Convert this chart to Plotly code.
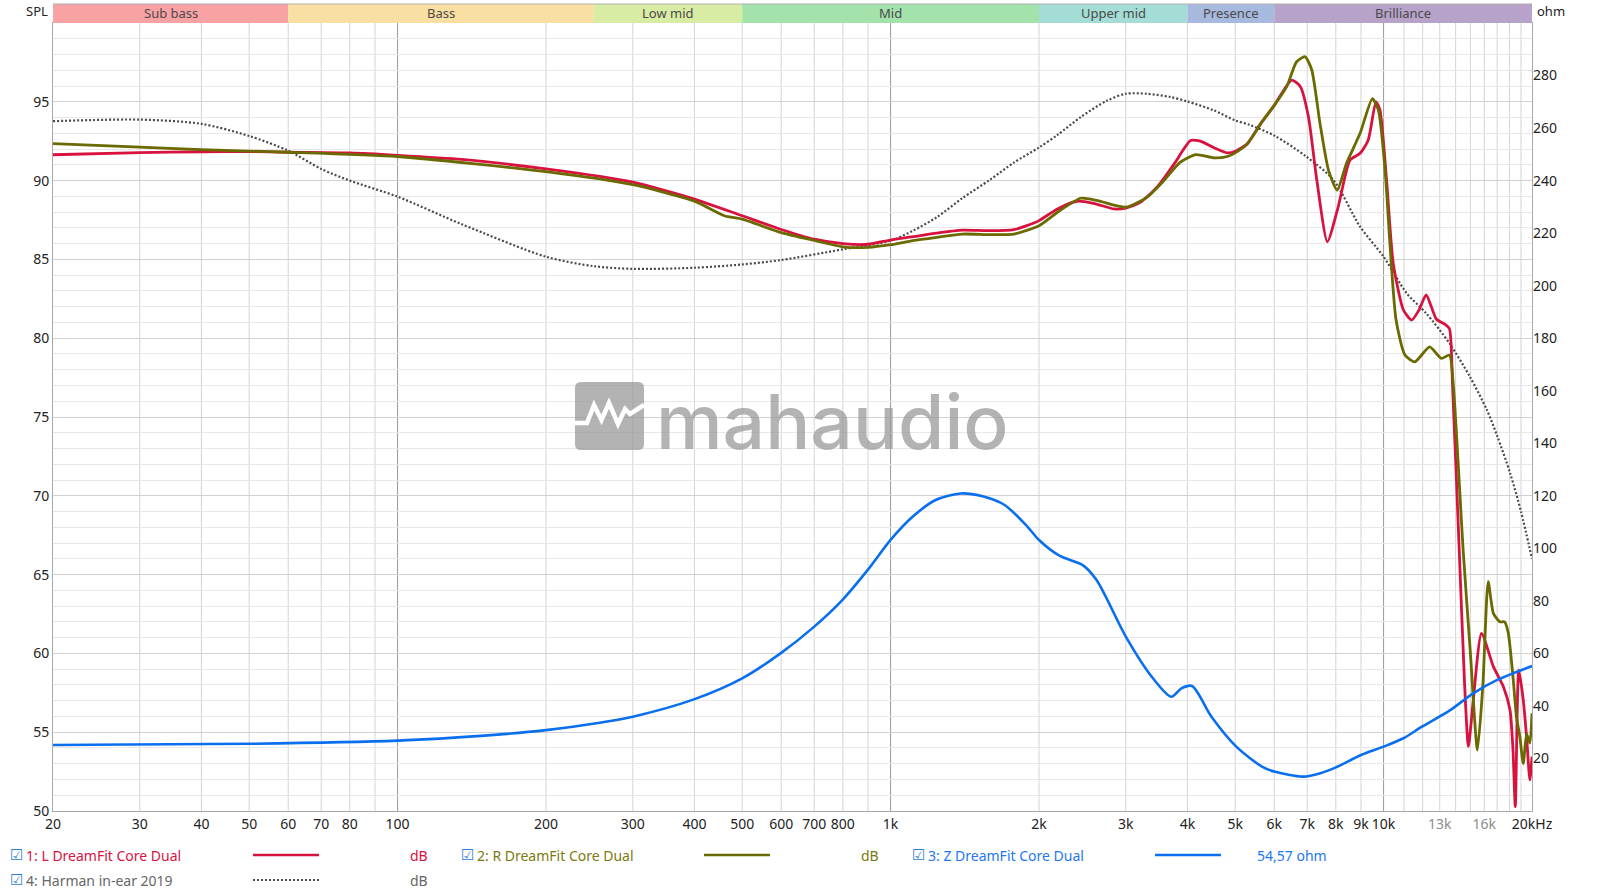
import math
import plotly.graph_objects as go

# ---------------- data ----------------
L_FREQ = [20, 30, 40, 50, 60, 80, 100, 135, 200, 300, 400, 500, 600, 700, 800, 900, 1000, 1110, 1240, 1400,
          1590, 1780, 1890, 2000, 2180, 2390, 2580, 2840, 3000, 3210, 3470, 3760, 4060, 4250, 4530, 4820,
          5000, 5290, 5630, 6000, 6510, 6780, 7040, 7320, 7690, 8090, 8550, 8960, 9310, 9650, 9830, 10140,
          10460, 10970, 11400, 11800, 12200, 12800, 13300, 13600, 13800, 14240, 14600, 14860, 15200, 15800,
          16700, 17500, 18050, 18300, 18500, 18800, 19200, 19500, 19800, 20000]
L_DB = [91.64, 91.77, 91.83, 91.85, 91.8, 91.75, 91.6, 91.34, 90.74, 89.9, 88.83, 87.77, 86.9, 86.28, 86.0, 85.96,
        86.23, 86.44, 86.67, 86.86, 86.82, 86.89, 87.14, 87.46, 88.2, 88.69, 88.56, 88.2, 88.26, 88.62, 89.58,
        91.06, 92.54, 92.5, 92.08, 91.76, 91.86, 92.33, 93.6, 94.77, 96.38, 95.96, 94.05, 90.04, 86.12, 88.34,
        91.31, 91.73, 92.58, 95.0, 94.48, 90.04, 84.75, 81.79, 81.15, 81.79, 82.74, 81.2, 80.9, 80.6, 77.0,
        66.5, 58.0, 54.1, 57.0, 61.27, 59.16, 57.89, 56.4, 53.87, 50.27, 58.95, 57.04, 54.7, 51.97, 53.45]

R_FREQ = [20, 30, 40, 50, 60, 100, 200, 300, 400, 460, 500, 600, 700, 800, 900, 1000, 1110, 1240, 1400, 1590,
          1780, 2000, 2180, 2430, 2630, 3000, 3310, 3560, 3870, 4160, 4530, 4820, 5000, 5290, 5630, 6000, 6360,
          6660, 6930, 7150, 7430, 7730, 8050, 8410, 8960, 9490, 9760, 10070, 10300, 10600, 11050, 11570, 12400,
          13100, 13600, 13850, 14500, 15000, 15500, 15900, 16300, 16700, 17200, 17600, 17900, 18300, 18600,
          18900, 19200, 19500, 19800, 20000]
R_DB = [92.34, 92.13, 91.96, 91.87, 91.8, 91.53, 90.57, 89.74, 88.7, 87.77, 87.55, 86.7, 86.2, 85.8, 85.76, 85.93,
        86.19, 86.4, 86.61, 86.57, 86.61, 87.14, 87.99, 88.88, 88.73, 88.31, 88.94, 89.9, 91.17, 91.65, 91.44,
        91.53, 91.76, 92.33, 93.6, 94.77, 95.96, 97.54, 97.86, 97.02, 93.63, 90.67, 89.4, 91.1, 93.0, 95.2, 94.48,
        90.67, 86.0, 81.15, 78.93, 78.5, 79.45, 78.72, 78.93, 77.0, 66.56, 60.0, 53.87, 58.0, 64.55, 62.54,
        62.01, 62.0, 61.3, 58.52, 55.98, 54.7, 53.0, 54.9, 54.3, 56.2]

Z_FREQ = [20, 50, 100, 150, 200, 257, 300, 399, 500, 598, 700, 798, 898, 1000, 1108, 1234, 1389, 1530, 1703,
          1896, 2000, 2205, 2453, 2617, 3000, 3387, 3711, 3889, 4087, 4476, 5026, 5667, 6000, 6868, 7445, 8000,
          9000, 10000, 10970, 11960, 13600, 15200, 17000, 20000]
Z_OHM = [25.1, 25.6, 26.8, 28.7, 30.8, 33.6, 35.9, 42.5, 50.5, 60.0, 70.2, 80.3, 91.7, 103.2, 112.0, 118.4,
         120.9, 119.9, 116.5, 108.2, 103.2, 97.1, 93.6, 87.9, 66.4, 51.1, 43.5, 46.7, 47.6, 35.9, 24.5, 16.9,
         15.0, 13.1, 14.4, 16.6, 21.3, 24.5, 27.7, 32.1, 38.2, 44.8, 49.9, 55.2]

H_FREQ = [20, 30, 40, 50, 60, 70, 80, 100, 135, 200, 250, 300, 400, 500, 600, 800, 1000, 1110, 1240, 1400,
          1590, 1780, 2000, 2180, 2430, 2750, 3000, 3310, 3700, 4000, 4530, 5000, 5360, 6000, 6980, 7910, 8960,
          10000, 11140, 12200, 13600, 14960, 16200, 17000, 18050, 19000, 20000]
H_DB = [93.77, 93.87, 93.6, 92.83, 91.9, 90.74, 90.0, 88.98, 87.23, 85.17, 84.57, 84.4, 84.47, 84.68, 84.96,
        85.64, 86.19, 86.82, 87.67, 88.9, 90.05, 91.15, 92.1, 92.9, 94.03, 95.08, 95.51, 95.51, 95.3, 95.02,
        94.45, 93.82, 93.53, 92.86, 91.51, 90.04, 87.08, 85.17, 82.85, 81.58, 79.68, 77.56, 75.45, 73.8,
        71.45, 69.0, 66.0]

BAND_NAMES = ["Sub bass", "Bass", "Low mid", "Mid", "Upper mid", "Presence", "Brilliance"]
BAND_EDGES = [20, 60, 250, 500, 2000, 4000, 6000, 20000]
BAND_COLORS = ["#F8A2A4", "#F9DFA1", "#D9ECA3", "#A3E2AA", "#A4DDD6", "#A8B9DF", "#B7A2C9"]

X_TICKS = [20, 30, 40, 50, 60, 70, 80, 100, 200, 300, 400, 500, 600, 700, 800, 1000, 2000, 3000, 4000, 5000,
           6000, 7000, 8000, 9000, 10000, 13000, 16000, 20000]
X_TICKTEXT = ["20", "30", "40", "50", "60", "70", "80", "100", "200", "300", "400", "500", "600", "700", "800",
              "1k", "2k", "3k", "4k", "5k", "6k", "7k", "8k", "9k", "10k",
              "<span style='color:#8c8c8c'>13k</span>", "<span style='color:#8c8c8c'>16k</span>", "20kHz"]
Y_TICKS = [50, 55, 60, 65, 70, 75, 80, 85, 90, 95]
Y2_TICKS = [20, 40, 60, 80, 100, 120, 140, 160, 180, 200, 220, 240, 260, 280]

GRID_MINOR = [30, 40, 50, 60, 70, 80, 90, 200, 300, 400, 500, 600, 700, 800, 900, 2000, 3000, 4000, 5000,
              6000, 7000, 8000, 9000, 11000, 12000, 13000, 14000, 15000, 16000, 17000, 18000, 19000]
GRID_MAJOR = [100, 1000, 10000]

# ---------------- geometry ----------------
W, H = 1600, 893
ML, MR, MT, MB = 53, 68, 23, 82
PW, PH = W - ML - MR, H - MT - MB


def px(xp):
    return (xp - ML) / PW


def py(yp):
    return (H - MB - yp) / PH


FONT = "Noto Sans"

fig = go.Figure()

fig.add_trace(go.Scatter(x=H_FREQ, y=H_DB, mode="lines", name="4: Harman in-ear 2019",
                         line=dict(color="#4a4a4a", width=2.2, dash="2px,2px", shape="spline", smoothing=0.8)))
fig.add_trace(go.Scatter(x=Z_FREQ, y=Z_OHM, mode="lines", yaxis="y2", name="3: Z DreamFit Core Dual",
                         line=dict(color="#0A6FEF", width=2.6, shape="spline", smoothing=0.8)))
fig.add_trace(go.Scatter(x=L_FREQ, y=L_DB, mode="lines", name="1: L DreamFit Core Dual",
                         line=dict(color="#D8123F", width=2.8, shape="spline", smoothing=0.6)))
fig.add_trace(go.Scatter(x=R_FREQ, y=R_DB, mode="lines", name="2: R DreamFit Core Dual",
                         line=dict(color="#6A6A00", width=2.8, shape="spline", smoothing=0.6)))

shapes = []
# vertical grid
for f in GRID_MINOR:
    shapes.append(dict(type="line", xref="x", yref="paper", x0=f, x1=f, y0=0, y1=1, layer="below",
                       line=dict(color="#d4d4d4", width=1)))
for f in GRID_MAJOR:
    shapes.append(dict(type="line", xref="x", yref="paper", x0=f, x1=f, y0=0, y1=1, layer="below",
                       line=dict(color="#9a9a9a", width=1)))

# frequency band bar
band_h = 19 / PH
annotations = []
for name, f0, f1, col in zip(BAND_NAMES, BAND_EDGES[:-1], BAND_EDGES[1:], BAND_COLORS):
    shapes.append(dict(type="rect", xref="x", yref="paper", x0=f0, x1=f1, y0=1, y1=1 + band_h,
                       fillcolor=col, line=dict(width=0), layer="above"))
    annotations.append(dict(x=(math.log10(f0) + math.log10(f1)) / 2, y=1 + band_h / 2, xref="x", yref="paper",
                            text=name, showarrow=False, xanchor="center", yanchor="middle",
                            font=dict(family=FONT, size=13, color="#4a4a4a")))
shapes.append(dict(type="line", xref="paper", yref="paper", x0=0, x1=1, y0=1 + band_h, y1=1 + band_h,
                   line=dict(color="#b0b0b0", width=1)))

# axis titles
annotations.append(dict(x=px(50), y=py(11), xref="paper", yref="paper", text="SPL", showarrow=False,
                        xanchor="right", yanchor="middle", font=dict(family=FONT, size=13, color="#222")))
annotations.append(dict(x=px(1535), y=py(11), xref="paper", yref="paper", text="ohm", showarrow=False,
                        xanchor="left", yanchor="middle", font=dict(family=FONT, size=13, color="#222")))

# watermark
lx0, lx1, ly0, ly1, r = 575, 644, 382, 450, 6
logo_path = (f"M {px(lx0 + r)},{py(ly0)} L {px(lx1 - r)},{py(ly0)} Q {px(lx1)},{py(ly0)} {px(lx1)},{py(ly0 + r)} "
             f"L {px(lx1)},{py(ly1 - r)} Q {px(lx1)},{py(ly1)} {px(lx1 - r)},{py(ly1)} "
             f"L {px(lx0 + r)},{py(ly1)} Q {px(lx0)},{py(ly1)} {px(lx0)},{py(ly1 - r)} "
             f"L {px(lx0)},{py(ly0 + r)} Q {px(lx0)},{py(ly0)} {px(lx0 + r)},{py(ly0)} Z")
shapes.append(dict(type="path", xref="paper", yref="paper", path=logo_path, fillcolor="rgba(150,150,150,0.72)",
                   line=dict(width=0), layer="above"))
zig = [(575, 423), (587, 423), (594, 405), (601.5, 420), (609, 403), (618, 424), (625, 409), (630, 414),
       (644, 405)]
zig_path = "M " + " L ".join(f"{px(a)},{py(b)}" for a, b in zig)
shapes.append(dict(type="path", xref="paper", yref="paper", path=zig_path,
                   line=dict(color="white", width=4.5), layer="above"))
annotations.append(dict(x=px(654), y=py(421), xref="paper", yref="paper", text="mahaudio", showarrow=False,
                        xanchor="left", yanchor="middle",
                        font=dict(family="Inter", size=75, color="rgba(150,150,150,0.72)", weight=500)))

# bottom legend
legend_items = [
    (8, 855, "1: L DreamFit Core Dual", "#D8123F", "#D8123F", "solid", "dB", 408),
    (459, 855, "2: R DreamFit Core Dual", "#7A7A10", "#6A6A00", "solid", "dB", 859),
    (910, 855, "3: Z DreamFit Core Dual", "#1E78F0", "#0A6FEF", "solid", "54,57 ohm", 1255),
    (8, 880, "4: Harman in-ear 2019", "#666666", "#4a4a4a", "2px,2px", "dB", 408),
]
for x0, yy, label, tcol, lcol, dash, unit, ux in legend_items:
    annotations.append(dict(x=px(x0), y=py(yy), xref="paper", yref="paper", text="☑", showarrow=False,
                            xanchor="left", yanchor="middle", font=dict(family="DejaVu Sans", size=15,
                                                                          color="#2f7fd6")))
    annotations.append(dict(x=px(x0 + 16), y=py(yy), xref="paper", yref="paper", text=label, showarrow=False,
                            xanchor="left", yanchor="middle", font=dict(family=FONT, size=14, color=tcol)))
    lx = x0 + 245
    shapes.append(dict(type="line", xref="paper", yref="paper", x0=px(lx), x1=px(lx + 66), y0=py(yy),
                       y1=py(yy), line=dict(color=lcol, width=2.6 if dash == "solid" else 2, dash=dash)))
    annotations.append(dict(x=px(ux), y=py(yy), xref="paper", yref="paper", text=unit, showarrow=False,
                            xanchor="left", yanchor="middle", font=dict(family=FONT, size=14, color=tcol)))

fig.update_layout(
    width=W, height=H, margin=dict(l=ML, r=MR, t=MT, b=MB, pad=0),
    paper_bgcolor="white", plot_bgcolor="white", showlegend=False,
    font=dict(family=FONT, size=14, color="#222"),
    xaxis=dict(type="log", range=[math.log10(20), math.log10(20000)], tickmode="array", tickvals=X_TICKS,
               ticktext=X_TICKTEXT, showgrid=False, zeroline=False, showline=True, linecolor="#a8a8a8",
               mirror=True, ticks="", tickfont=dict(family=FONT, size=14, color="#222")),
    yaxis=dict(range=[50, 100], tickmode="array", tickvals=Y_TICKS, showgrid=True, gridcolor="#d2d2d2",
               gridwidth=1, zeroline=False, showline=True, linecolor="#a8a8a8", mirror=True, ticks="",
               minor=dict(tickmode="linear", tick0=50, dtick=1, showgrid=True, gridcolor="#e8e8e8", gridwidth=1),
               tickfont=dict(family=FONT, size=14, color="#222")),
    yaxis2=dict(range=[0, 300], overlaying="y", side="right", tickmode="array", tickvals=Y2_TICKS,
                showgrid=False, zeroline=False, showline=False, ticks="",
                tickfont=dict(family=FONT, size=14, color="#222")),
    shapes=shapes, annotations=annotations,
)

fig.write_html("out.html")
